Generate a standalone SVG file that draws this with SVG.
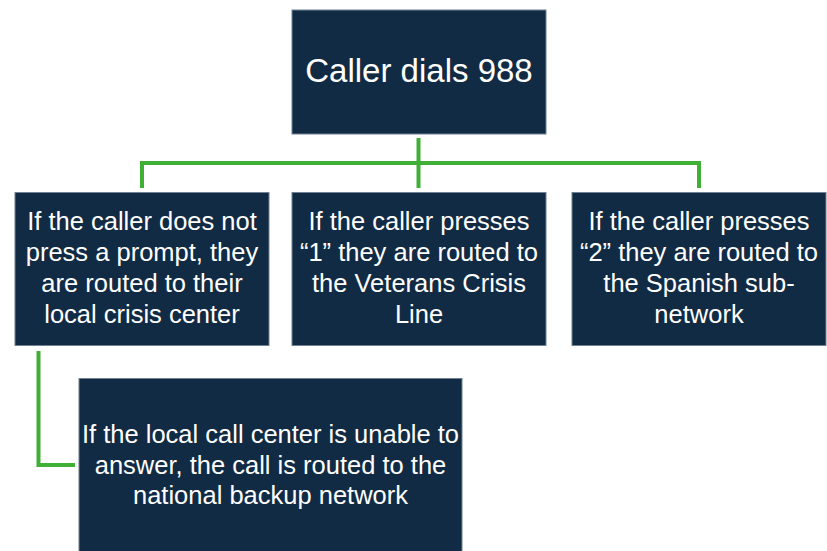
<svg xmlns="http://www.w3.org/2000/svg" width="827" height="551" viewBox="0 0 827 551">
<style>
.box{fill:#122b44;stroke:#6f8192;stroke-width:1}
.t{fill:#ffffff;font-family:"Liberation Sans",Arial,sans-serif;font-size:25.5px;text-anchor:middle}
.title{font-size:33px}
.conn{fill:none;stroke:#3fb035;stroke-width:4;stroke-linejoin:miter;stroke-linecap:butt}
</style>
<rect width="827" height="551" fill="#ffffff"/>
<g id="connectors">
<path class="conn" d="M418.5 138 V188"/>
<path class="conn" d="M142 188 V163 H699 V188"/>
<path class="conn" d="M38.5 351 V465 H75"/>
</g>
<g id="node-top">
<rect class="box" x="292" y="10" width="254" height="124"/>
<text class="t title" x="419" y="82">Caller dials 988</text>
</g>
<g id="node-left">
<rect class="box" x="15" y="192.5" width="254" height="153"/>
<text class="t" x="142" y="230">If the caller does not</text>
<text class="t" x="142" y="261">press a prompt, they</text>
<text class="t" x="142" y="292">are routed to their</text>
<text class="t" x="142" y="323">local crisis center</text>
</g>
<g id="node-middle">
<rect class="box" x="292" y="192.5" width="254" height="153"/>
<text class="t" x="419" y="230">If the caller presses</text>
<text class="t" x="419" y="261">“1” they are routed to</text>
<text class="t" x="419" y="292">the Veterans Crisis</text>
<text class="t" x="419" y="323">Line</text>
</g>
<g id="node-right">
<rect class="box" x="572" y="192.5" width="254" height="153"/>
<text class="t" x="699" y="230">If the caller presses</text>
<text class="t" x="699" y="261">“2” they are routed to</text>
<text class="t" x="699" y="292">the Spanish sub-</text>
<text class="t" x="699" y="323">network</text>
</g>
<g id="node-bottom">
<rect class="box" x="79" y="378.5" width="383" height="180"/>
<text class="t" x="270.5" y="443">If the local call center is unable to</text>
<text class="t" x="270.5" y="473.5">answer, the call is routed to the</text>
<text class="t" x="270.5" y="504">national backup network</text>
</g>
</svg>
